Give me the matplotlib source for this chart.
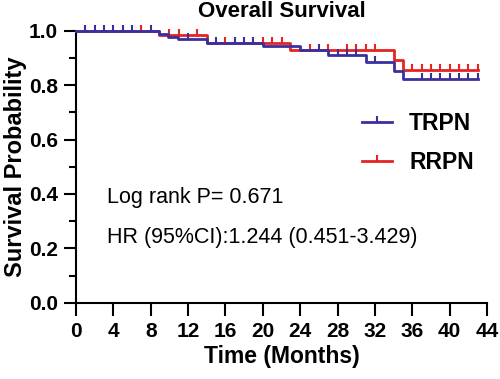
import numpy as np
import matplotlib
matplotlib.use('Agg')
import matplotlib.pyplot as plt
from matplotlib.lines import Line2D

plt.rcParams['font.family'] = ['Liberation Sans', 'DejaVu Sans']

# Kaplan-Meier steps (months, survival)
trpn_t = [0, 8.9, 9.9, 10.9, 14.0, 20.0, 24.0, 27.0, 31.0, 34.0, 35.0, 43.0]
trpn_s = [1.0, 0.988, 0.977, 0.969, 0.956, 0.945, 0.929, 0.909, 0.884, 0.853, 0.821, 0.821]
trpn_cens = [1, 2, 3, 4, 5, 6, 8, 12, 15, 17, 18, 19, 26, 28, 29, 30, 32,
             37, 38, 39, 40, 41, 42, 43]

rrpn_t = [0, 8.9, 14.0, 22.9, 34.0, 35.0, 43.0]
rrpn_s = [1.0, 0.983, 0.954, 0.929, 0.893, 0.857, 0.857]
rrpn_cens = [7, 10, 11, 13, 16, 20, 21, 22, 25, 27, 29, 30, 31, 32,
             36, 37, 38, 39, 40, 41, 42, 43]

labels = ['TRPN', 'RRPN']
colors = ['#3B2F9E', '#E52421']

# censor tick pointing up from the curve
tick_marker = [(0, 0), (0, 1)]


def surv_at(times, surv, pts):
    idx = np.searchsorted(times, pts, side='right') - 1
    return np.array(surv)[idx]


fig = plt.figure(figsize=(5, 3.79), dpi=100)
ax = fig.add_axes([0.152, 0.2013, 0.822, 0.7177])

curves = [(rrpn_t, rrpn_s, rrpn_cens, colors[1]),
          (trpn_t, trpn_s, trpn_cens, colors[0])]
for t, s, c, col in curves:
    ax.step(t, s, where='post', color=col, lw=2.0, clip_on=False, zorder=3)
    ax.plot(c, surv_at(t, s, c), ls='none', marker=tick_marker, ms=8,
            mew=1.5, color=col, clip_on=False, zorder=3)

ax.set_xlim(0, 44)
ax.set_ylim(0, 1.0)
ax.set_xticks(np.arange(0, 45, 4))
ax.set_yticks(np.arange(0, 1.01, 0.2))
ax.set_yticks(np.arange(0.1, 1.0, 0.2), minor=True)
ax.set_yticklabels(['0.0', '0.2', '0.4', '0.6', '0.8', '1.0'])

for side in ['top', 'right']:
    ax.spines[side].set_visible(False)
for side in ['left', 'bottom']:
    ax.spines[side].set_linewidth(1.5)

ax.tick_params(which='major', length=9, width=1.5, labelsize=15, pad=4)
ax.tick_params(axis='x', which='major', pad=5)
ax.tick_params(which='minor', length=5, width=1.5)
for lab in ax.get_xticklabels() + ax.get_yticklabels():
    lab.set_fontweight('bold')

ax.set_xlabel('Time (Months)', fontsize=16.5, fontweight='bold', labelpad=3)
ax.set_ylabel('Survival Probability', fontsize=17, fontweight='bold', labelpad=1)
ax.set_title('Overall Survival', fontsize=16, fontweight='bold', pad=10)

ax.text(0.075, 0.385, 'Log rank P= 0.671', transform=ax.transAxes,
        fontsize=15.5, va='center', ha='left')
ax.text(0.075, 0.241, 'HR (95%CI):1.244 (0.451-3.429)', transform=ax.transAxes,
        fontsize=15.5, va='center', ha='left')

handles = [Line2D([0], [0], color=colors[i], lw=2.0, marker=tick_marker,
                  ms=8, mew=1.5) for i in range(2)]
leg = ax.legend(handles, labels, loc='upper left', bbox_to_anchor=(0.696, 0.70),
                frameon=False, borderpad=0, borderaxespad=0, handlelength=1.3,
                handletextpad=0.75, labelspacing=0.7,
                prop={'size': 16.5, 'weight': 'bold'})

fig.savefig('out.png', dpi=100)
